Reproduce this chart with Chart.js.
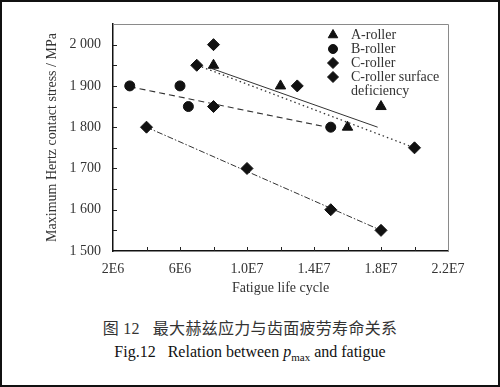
<!DOCTYPE html>
<html>
<head>
<meta charset="utf-8">
<script src="https://cdn.jsdelivr.net/npm/chart.js@4"></script>
<style>
    html, body { margin: 0; padding: 0; background: #fff; }
    #page { position: relative; width: 500px; height: 387px; overflow: hidden; }
    #plot { position: absolute; left: 0; top: 0; }
    #frame { position: absolute; left: 0; top: 0; width: 500px; height: 387px; box-sizing: border-box; border: 2px solid #111; pointer-events: none; }
    .cap { position: absolute; left: 0; width: 500px; text-align: center; white-space: pre; font-family: "Liberation Serif", "Noto Sans CJK SC", serif; }
    #capZh { top: 315px; font-size: 16px; color: #333; letter-spacing: 0.3px; }
    #capEn { top: 343px; font-size: 16px; color: #111; }
    #capEn sub { font-size: 11px; }
</style>
</head>
<body>
<div id="page">
    <canvas id="plot" width="500" height="301"></canvas>
    <div class="cap" id="capZh">图 12   最大赫兹应力与齿面疲劳寿命关系</div>
    <div class="cap" id="capEn">Fig.12   Relation between <i>p</i><sub>max</sub> and fatigue</div>
    <div id="frame"></div>
</div>
<script>
// tick labels
const xTicks = [2e6, 6e6, 1e7, 1.4e7, 1.8e7, 2.2e7];
const xTickLabels = ['2E6', '6E6', '1.0E7', '1.4E7', '1.8E7', '2.2E7'];
const yTicks = [1500, 1600, 1700, 1800, 1900, 2000];
const yTickLabels = ['1 500', '1 600', '1 700', '1 800', '1 900', '2 000'];

const seriesNames = ['A-roller', 'B-roller', 'C-roller', 'C-roller surface deficiency'];

// measured points (cycles, MPa)
const aCycles = [8e6, 1.2e7, 1.6e7, 1.8e7];
const aStress = [1950, 1900, 1800, 1850];
const bCycles = [3e6, 6e6, 6.5e6, 1.5e7];
const bStress = [1900, 1900, 1850, 1800];
const cCycles = [7e6, 8e6, 8e6, 1.3e7, 2e7];
const cStress = [1950, 2000, 1850, 1900, 1750];
const dCycles = [4e6, 1e7, 1.5e7, 1.8e7];
const dStress = [1800, 1700, 1600, 1550];

// trend lines, ends
const aFitCycles = [7.9e6, 1.78e7];
const aFitStress = [1942, 1800];
const bFitCycles = [3e6, 1.48e7];
const bFitStress = [1898, 1800];
const cFitCycles = [7.3e6, 2e7];
const cFitStress = [1946, 1750];
const dFitCycles = [4e6, 1.8e7];
const dFitStress = [1800, 1550];

const toPoints = (xs, ys) => xs.map((x, i) => ({ x: x, y: ys[i] }));

Chart.defaults.font.family = '"Liberation Serif", "Times New Roman", serif';
Chart.defaults.font.size = 14;
Chart.defaults.color = '#333';

function markerSet(label, xs, ys, style, radius) {
    return {
        label: label,
        data: toPoints(xs, ys),
        pointStyle: style,
        pointRadius: radius,
        pointBackgroundColor: '#111',
        pointBorderColor: '#111',
        pointBorderWidth: 1,
        showLine: false,
        inLegend: true
    };
}

function fitLine(xs, ys, dash, width) {
    return {
        data: toPoints(xs, ys),
        showLine: true,
        pointRadius: 0,
        borderColor: '#333',
        borderWidth: width,
        borderDash: dash,
        fill: false
    };
}

// legend on the top right, with wrapped text
const cornerLegend = {
    id: 'cornerLegend',
    afterDraw(chart) {
        const ctx = chart.ctx;
        ctx.save();
        ctx.font = '14px "Liberation Serif", serif';
        ctx.textBaseline = 'middle';
        let y = 35;
        chart.data.datasets.forEach(ds => {
            if (!ds.inLegend) return;
            ctx.fillStyle = '#111';
            ctx.strokeStyle = '#111';
            ctx.lineWidth = 1;
            Chart.helpers.drawPoint(ctx, { pointStyle: ds.pointStyle, radius: ds.pointRadius - 0.5, borderWidth: 1 }, 333, y);
            ctx.fillStyle = '#333';
            // wrap to 92px
            const words = ds.label.split(' ');
            let line = '';
            const lines = [];
            words.forEach(w => {
                const test = line ? line + ' ' + w : w;
                if (ctx.measureText(test).width > 92 && line) { lines.push(line); line = w; }
                else line = test;
            });
            lines.push(line);
            lines.forEach(l => { ctx.fillText(l, 351, y); y += 14; });
        });
        ctx.restore();
    }
};

// inward tick marks plus the grey top/right frame
const innerTicks = {
    id: 'innerTicks',
    afterDraw(chart) {
        const { ctx, chartArea: a, scales } = chart;
        ctx.save();
        ctx.strokeStyle = '#222';
        ctx.lineWidth = 1;
        scales.x.ticks.forEach(t => {
            const px = Math.round(scales.x.getPixelForValue(t.value)) + 0.5;
            if (px <= a.left + 1 || px >= a.right - 1) return;
            ctx.beginPath();
            ctx.moveTo(px, a.bottom);
            ctx.lineTo(px, a.bottom - 4);
            ctx.stroke();
        });
        scales.y.ticks.forEach(t => {
            const py = Math.round(scales.y.getPixelForValue(t.value)) + 0.5;
            if (py <= a.top + 1 || py >= a.bottom - 1) return;
            ctx.beginPath();
            ctx.moveTo(a.left, py);
            ctx.lineTo(a.left + 4, py);
            ctx.stroke();
        });
        ctx.strokeStyle = '#8a8a8a';
        ctx.beginPath();
        ctx.moveTo(a.left, a.top + 0.5);
        ctx.lineTo(a.right + 0.5, a.top + 0.5);
        ctx.lineTo(a.right + 0.5, a.bottom);
        ctx.stroke();
        ctx.restore();
    }
};

new Chart(document.getElementById('plot').getContext('2d'), {
    type: 'scatter',
    data: {
        datasets: [
            markerSet(seriesNames[0], aCycles, aStress, 'triangle', 6),
            markerSet(seriesNames[1], bCycles, bStress, 'circle', 5),
            markerSet(seriesNames[2], cCycles, cStress, 'rectRot', 6),
            markerSet(seriesNames[3], dCycles, dStress, 'rectRot', 6),
            fitLine(aFitCycles, aFitStress, [], 1),
            fitLine(bFitCycles, bFitStress, [6, 4], 1.2),
            fitLine(cFitCycles, cFitStress, [1.5, 3], 1.3),
            fitLine(dFitCycles, dFitStress, [6, 2, 1.5, 2], 1)
        ]
    },
    options: {
        responsive: false,
        animation: false,
        layout: { padding: { top: 24, left: 40, right: 52, bottom: 0 } },
        scales: {
            x: {
                type: 'linear',
                min: 2e6,
                max: 2.2e7,
                afterFit: s => { s.height = 50; },
                ticks: {
                    stepSize: 2e6,
                    autoSkip: false,
                    maxRotation: 0,
                    padding: 10,
                    color: '#333',
                    callback: v => {
                        const i = xTicks.findIndex(t => Math.abs(t - v) < 1);
                        return i >= 0 ? xTickLabels[i] : '';
                    }
                },
                grid: { display: false, drawTicks: false },
                border: { display: true, color: '#111', width: 1.5 },
                title: { display: true, text: 'Fatigue life cycle', color: '#333', font: { size: 14 } }
            },
            y: {
                type: 'linear',
                min: 1500,
                max: 2050,
                afterFit: s => { s.width = 73; },
                ticks: {
                    stepSize: 50,
                    autoSkip: false,
                    padding: 12,
                    color: '#333',
                    callback: v => {
                        const i = yTicks.indexOf(v);
                        return i >= 0 ? yTickLabels[i] : '';
                    }
                },
                grid: { display: false, drawTicks: false },
                border: { display: true, color: '#111', width: 1.5 },
                title: { display: true, text: 'Maximum Hertz contact stress / MPa', color: '#333', font: { size: 14 } }
            }
        },
        plugins: {
            legend: { display: false },
            tooltip: { enabled: false }
        }
    },
    plugins: [cornerLegend, innerTicks]
});
</script>
</body>
</html>
